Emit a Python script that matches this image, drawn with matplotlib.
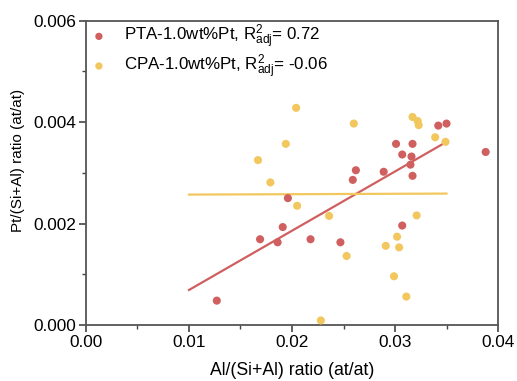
import numpy as np
import matplotlib.pyplot as plt

plt.rcParams['font.family'] = ['Liberation Sans', 'DejaVu Sans']
plt.rcParams['mathtext.fontset'] = 'custom'
plt.rcParams['mathtext.rm'] = 'Liberation Sans'
plt.rcParams['mathtext.it'] = 'Liberation Sans'
plt.rcParams['mathtext.default'] = 'regular'

# 数据
pta_x = [0.0127, 0.0169, 0.0186, 0.0191, 0.0196, 0.0218, 0.0247, 0.0259, 0.0262, 0.0289,
         0.0301, 0.0307, 0.0307, 0.0315, 0.0316, 0.0317, 0.0317, 0.0342, 0.0350, 0.0388]
pta_y = [0.00048, 0.00169, 0.00163, 0.00193, 0.00250, 0.00169, 0.00163, 0.00286, 0.00305, 0.00302,
         0.00357, 0.00336, 0.00196, 0.00316, 0.00332, 0.00357, 0.00294, 0.00393, 0.00397, 0.00341]

cpa_x = [0.0167, 0.0179, 0.0194, 0.0204, 0.0205, 0.0228, 0.0236, 0.0253, 0.0260, 0.0291,
         0.0299, 0.0302, 0.0304, 0.0311, 0.0317, 0.0321, 0.0322, 0.0323, 0.0339, 0.0349]
cpa_y = [0.00325, 0.00281, 0.00357, 0.00428, 0.00235, 0.00009, 0.00215, 0.00136, 0.00397, 0.00156,
         0.00096, 0.00174, 0.00153, 0.00056, 0.00410, 0.00216, 0.00402, 0.00394, 0.00370, 0.00361]

# 拟合线端点
fit_x = [0.010, 0.035]
pta_fit = [0.00069, 0.00361]
cpa_fit = [0.00257, 0.00259]

labels = [r'PTA-1.0wt%Pt, R$^{2}_{adj}$= 0.72', r'CPA-1.0wt%Pt, R$^{2}_{adj}$= -0.06']
red = '#d05f5f'
yellow = '#f2c75e'

fig = plt.figure(figsize=(5.17, 3.81), dpi=100)
ax = fig.add_axes([0.1663, 0.147, 0.797, 0.799])

ax.scatter(pta_x, pta_y, s=34, color=red, edgecolors='none', label=labels[0], zorder=3)
ax.scatter(cpa_x, cpa_y, s=34, color=yellow, edgecolors='none', label=labels[1], zorder=3)
ax.plot(fit_x, pta_fit, color=red, linewidth=1.6, zorder=2)
ax.plot(fit_x, cpa_fit, color=yellow, linewidth=1.6, zorder=2)

ax.set_xlim(0, 0.04)
ax.set_ylim(0, 0.006)
ax.set_xticks([0.00, 0.01, 0.02, 0.03, 0.04])
ax.set_xticklabels(['0.00', '0.01', '0.02', '0.03', '0.04'])
ax.set_yticks([0.000, 0.002, 0.004, 0.006])
ax.set_yticklabels(['0.000', '0.002', '0.004', '0.006'])
ax.set_xticks(np.arange(0.005, 0.04, 0.01), minor=True)
ax.set_yticks([0.001, 0.003, 0.005], minor=True)
ax.tick_params(which='major', direction='out', length=5, width=1.2, colors='#444444',
               labelsize=12.4, labelcolor='black', pad=2)
ax.tick_params(which='minor', direction='out', length=3, width=1.0, colors='#444444')
for sp in ax.spines.values():
    sp.set_color('#555555')
    sp.set_linewidth(1.3)

ax.set_xlabel('Al/(Si+Al) ratio (at/at)', fontsize=12.7, labelpad=9)
ax.set_ylabel('Pt/(Si+Al) ratio (at/at)', fontsize=11)
ax.yaxis.set_label_coords(-0.147, 0.54)

ax.legend(loc='upper left', bbox_to_anchor=(0.01, 1.0), frameon=False, fontsize=12.2,
          handletextpad=1.1, borderaxespad=0.0, borderpad=0.12, labelspacing=0.08,
          handlelength=0.8, markerscale=0.9)

plt.savefig('out.png', dpi=100)
